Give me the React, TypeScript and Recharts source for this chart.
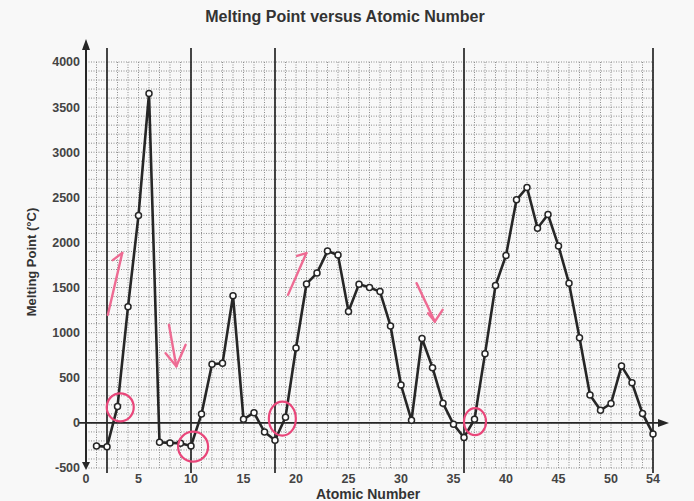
import { LineChart, Line, XAxis, YAxis, CartesianGrid, ReferenceLine, ReferenceDot } from "recharts"

const atomicNumbers = [
  1, 2, 3, 4, 5, 6, 7, 8, 9, 10, 11, 12, 13, 14, 15, 16, 17, 18, 19, 20, 21, 22, 23, 24, 25, 26, 27,
  28, 29, 30, 31, 32, 33, 34, 35, 36, 37, 38, 39, 40, 41, 42, 43, 44, 45, 46, 47, 48, 49, 50, 51, 52, 53, 54,
]
const meltingPoints = [
  -255, -265, 181, 1287, 2300, 3650, -215, -222, -225, -255, 98, 650, 660, 1410, 40, 113, -101, -192, 63,
  830, 1540, 1660, 1905, 1860, 1235, 1538, 1500, 1455, 1075, 420, 28, 935, 612, 218, -15, -162, 40, 765,
  1522, 1856, 2472, 2610, 2158, 2310, 1960, 1548, 945, 310, 140, 215, 630, 445, 105, -122,
]

const xTickLabels = [0, 5, 10, 15, 20, 25, 30, 35, 40, 45, 50, 54]
const yTickLabels = [-500, 0, 500, 1000, 1500, 2000, 2500, 3000, 3500, 4000]
// heavy lines drawn at the end of each period
const periodLines = [2, 10, 18, 36, 54]

// red hand-drawn circles around the first element of each new period
const circledMarks = [
  { x: 3.26, y: 173, rx: 13.5, ry: 14 },
  { x: 10.2, y: -264, rx: 15, ry: 15 },
  { x: 18.7, y: 47, rx: 13.5, ry: 17 },
  { x: 37.05, y: 13, rx: 11, ry: 13.5 },
]
// pink hand-drawn arrows as polylines [shaft start, tip, barb...]
const arrowStrokes = [
  [[2.08, 1198], [3.45, 1883], [2.55, 1804]],
  [[7.9, 1087], [8.6, 628], [9.49, 865]],
  [[7.58, 773], [8.6, 628]],
  [[19.24, 1419], [20.99, 1882], [20.1, 1851]],
  [[31.48, 1549], [33.22, 1123], [32.58, 1216]],
  [[33.22, 1123], [33.96, 1253]],
]

const gridX = Array.from({ length: 55 }, (_, i) => i)
const gridY = Array.from({ length: 46 }, (_, i) => -500 + i * 100)

const data = atomicNumbers.map((z, i) => ({ z, mp: meltingPoints[i] }))

const ink = "#262626"
const pink = "#e9467a"
const font = "'Liberation Sans', Arial, sans-serif"

function PeriodLine(props: any) {
  const top = Math.min(props.y1, props.y2)
  const bottom = Math.max(props.y1, props.y2)
  return <line x1={props.x1} x2={props.x1} y1={top - 14} y2={bottom + 5} stroke={ink} strokeWidth={1.7} />
}

function YAxisLine(props: any) {
  const x = props.x1
  const top = Math.min(props.y1, props.y2) - 20
  const bottom = Math.max(props.y1, props.y2)
  return (
    <g>
      <line x1={x} x2={x} y1={top} y2={bottom} stroke={ink} strokeWidth={2} />
      <polygon points={`${x - 4},${top + 8} ${x + 4},${top + 8} ${x},${top - 3}`} fill={ink} />
      <polygon points={`${x - 4},${bottom - 6} ${x + 4},${bottom - 6} ${x},${bottom + 2}`} fill={ink} />
    </g>
  )
}

function XAxisLine(props: any) {
  const y = props.y1
  const left = Math.min(props.x1, props.x2) - 8
  const right = Math.max(props.x1, props.x2) + 13
  return (
    <g>
      <line x1={left} x2={right} y1={y} y2={y} stroke={ink} strokeWidth={1.8} />
      <polygon points={`${right - 8},${y - 4} ${right - 8},${y + 4} ${right + 3},${y}`} fill={ink} />
    </g>
  )
}

export default function App() {
  return (
    <div style={{ position: "absolute", left: 0, top: 0, width: 694, height: 501, background: "#f8f8f8", overflow: "hidden" }}>
      <div
        style={{
          position: "absolute",
          left: 0,
          width: 690,
          top: 8,
          textAlign: "center",
          fontFamily: font,
          fontWeight: "bold",
          fontSize: 16,
          color: "#333",
          lineHeight: "18px",
        }}
      >
        Melting Point versus Atomic Number
      </div>
      <div
        style={{
          position: "absolute",
          left: 32 - 80,
          top: 262 - 9,
          width: 160,
          textAlign: "center",
          transform: "rotate(-90deg)",
          fontFamily: font,
          fontWeight: "bold",
          fontSize: 13,
          color: "#333",
          lineHeight: "18px",
        }}
      >
        Melting Point (°C)
      </div>
      <div style={{ position: "absolute", left: 0, top: 0 }}>
        <LineChart width={694} height={501} data={data} margin={{ top: 62, right: 41, bottom: 0, left: 0 }}>
          <CartesianGrid stroke="#8c8c8c" strokeDasharray="1 1.5" strokeWidth={1} />
          <XAxis
            type="number"
            dataKey="z"
            domain={[0, 54]}
            ticks={gridX}
            interval={0}
            height={33}
            axisLine={false}
            tickLine={false}
            tickMargin={0}
            tickFormatter={(v: number) => (xTickLabels.includes(v) ? String(v) : "")}
            tick={{ fontSize: 12.5, fontWeight: "bold", fill: "#444", fontFamily: font }}
          />
          <YAxis
            type="number"
            domain={[-500, 4000]}
            ticks={gridY}
            interval={0}
            width={86}
            axisLine={false}
            tickLine={false}
            tickMargin={0}
            tickFormatter={(v: number) => (yTickLabels.includes(v) ? String(v) : "")}
            tick={{ fontSize: 12.5, fontWeight: "bold", fill: "#444", fontFamily: font }}
          />
          {periodLines.map((p) => (
            <ReferenceLine key={p} x={p} shape={PeriodLine} />
          ))}
          <ReferenceLine x={0} shape={YAxisLine} />
          <ReferenceLine y={0} shape={XAxisLine} />
          <Line
            type="linear"
            dataKey="mp"
            stroke={ink}
            strokeWidth={2.6}
            dot={{ r: 3, fill: "#fff", stroke: ink, strokeWidth: 1.5 }}
            isAnimationActive={false}
          />
          {circledMarks.map((c, i) => (
            <ReferenceDot
              key={"c" + i}
              x={c.x}
              y={c.y}
              r={c.rx}
              shape={(p: any) => (
                <ellipse cx={p.cx} cy={p.cy} rx={c.rx} ry={c.ry} fill="none" stroke={pink} strokeWidth={2.2} />
              )}
            />
          ))}
          {arrowStrokes.flatMap((pts, i) =>
            pts.slice(1).map((pt, j) => (
              <ReferenceLine
                key={"a" + i + "-" + j}
                segment={[
                  { x: pts[j][0], y: pts[j][1] },
                  { x: pt[0], y: pt[1] },
                ]}
                stroke="#ee6b93"
                strokeWidth={2.4}
                strokeLinecap="round"
              />
            ))
          )}
        </LineChart>
      </div>
      <div
        style={{
          position: "absolute",
          left: 368 - 100,
          width: 200,
          top: 487,
          textAlign: "center",
          fontFamily: font,
          fontWeight: "bold",
          fontSize: 14,
          color: "#333",
          lineHeight: "14px",
        }}
      >
        Atomic Number
      </div>
    </div>
  )
}
